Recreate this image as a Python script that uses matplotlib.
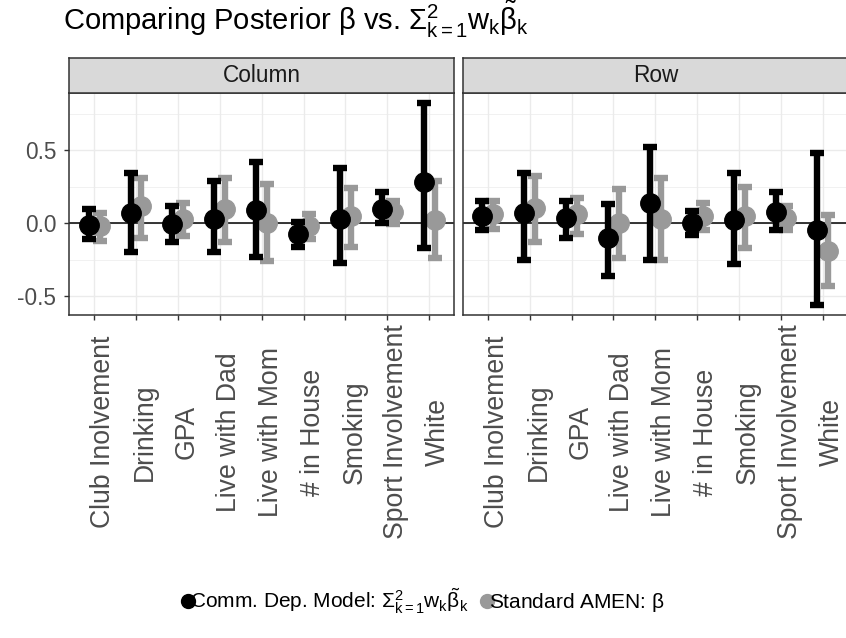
import numpy as np
import matplotlib
matplotlib.use("Agg")
import matplotlib.pyplot as plt
import matplotlib.transforms as mtransforms
from matplotlib.lines import Line2D
from matplotlib.ticker import MultipleLocator

plt.rcParams["font.family"] = ["Liberation Sans", "DejaVu Sans"]
plt.rcParams["mathtext.fontset"] = "custom"
plt.rcParams["mathtext.rm"] = "Liberation Sans"
plt.rcParams["mathtext.it"] = "Liberation Sans"
plt.rcParams["mathtext.bf"] = "Liberation Sans:bold"

# covariates, same order in both facets
covariates = ["Club Inolvement", "Drinking", "GPA", "Live with Dad", "Live with Mom",
              "# in House", "Smoking", "Sport Involvement", "White"]
facets = ["Column", "Row"]

# community-dependent model: sum_k w_k beta_k (mean, lower, upper)
comm_col_mean = [-0.01, 0.07, -0.005, 0.027, 0.09, -0.075, 0.027, 0.095, 0.28]
comm_col_lo = [-0.11, -0.20, -0.13, -0.20, -0.235, -0.165, -0.27, 0.0, -0.17]
comm_col_hi = [0.095, 0.345, 0.12, 0.29, 0.42, 0.005, 0.38, 0.21, 0.82]
comm_row_mean = [0.05, 0.068, 0.032, -0.10, 0.136, 0.0, 0.023, 0.077, -0.045]
comm_row_lo = [-0.05, -0.255, -0.105, -0.36, -0.255, -0.08, -0.28, -0.046, -0.56]
comm_row_hi = [0.15, 0.34, 0.15, 0.13, 0.52, 0.085, 0.345, 0.213, 0.48]

# standard AMEN posterior beta (mean, lower, upper)
amen_col_mean = [-0.02, 0.12, 0.027, 0.095, 0.0, -0.018, 0.05, 0.077, 0.022]
amen_col_lo = [-0.12, -0.10, -0.085, -0.13, -0.26, -0.11, -0.165, -0.007, -0.24]
amen_col_hi = [0.07, 0.31, 0.14, 0.31, 0.265, 0.06, 0.243, 0.15, 0.29]
amen_row_mean = [0.06, 0.107, 0.06, 0.0, 0.03, 0.05, 0.05, 0.032, -0.19]
amen_row_lo = [-0.04, -0.127, -0.075, -0.24, -0.25, -0.046, -0.17, -0.05, -0.43]
amen_row_hi = [0.15, 0.32, 0.175, 0.235, 0.31, 0.14, 0.247, 0.118, 0.055]

comm = {"Column": (comm_col_mean, comm_col_lo, comm_col_hi),
        "Row": (comm_row_mean, comm_row_lo, comm_row_hi)}
amen = {"Column": (amen_col_mean, amen_col_lo, amen_col_hi),
        "Row": (amen_row_mean, amen_row_lo, amen_row_hi)}

y_ticks = [-0.5, 0.0, 0.5]
y_ticklabels = ["-0.5", "0.0", "0.5"]

grey30 = "#4D4D4D"
grey20 = "#333333"
amen_col = "#999999"

# y range: data range expanded by 5% like ggplot
all_lo = min(min(v[1]) for v in list(comm.values()) + list(amen.values()))
all_hi = max(max(v[2]) for v in list(comm.values()) + list(amen.values()))
pad = 0.05 * (all_hi - all_lo)
ylim = (all_lo - pad, all_hi + pad)

W, H = 846, 638
fig = plt.figure(figsize=(W / 100, H / 100), dpi=100)


def px_box(x0, y0, x1, y1):
    return [x0 / W, 1 - y1 / H, (x1 - x0) / W, (y1 - y0) / H]


panel_x = [(69, 454.3), (462.7, 848)]
panel_top, panel_bot = 93.3, 315
strip_top = 58

x = np.arange(len(covariates))
dodge = 0.13

# rotated covariate labels: glyphs start at the tick, centred 117 px below the panel
label_offset = mtransforms.ScaledTranslation(-4 / 100, -117 / 100, fig.dpi_scale_trans)

for i, name in enumerate(facets):
    x0, x1 = panel_x[i]
    ax = fig.add_axes(px_box(x0, panel_top, x1, panel_bot))
    ax.set_xlim(-0.6, len(covariates) - 0.4)
    ax.set_ylim(*ylim)
    ax.set_yticks(y_ticks)
    ax.yaxis.set_minor_locator(MultipleLocator(0.25))
    ax.grid(True, which="major", color="#EBEBEB", linewidth=1.0, zorder=0)
    ax.grid(True, which="minor", axis="y", color="#EBEBEB", linewidth=0.5, zorder=0)
    ax.set_axisbelow(True)
    for s in ax.spines.values():
        s.set_color(grey20)
        s.set_linewidth(1.1)

    ax.axhline(0, color="black", linewidth=1.1, zorder=1)

    m, lo, hi = amen[name]
    m = np.array(m)
    ax.errorbar(x + dodge, m, yerr=[m - np.array(lo), np.array(hi) - m],
                fmt="o", color=amen_col, ecolor=amen_col, elinewidth=4.6,
                capsize=5.3, capthick=4.6, markersize=14, zorder=2)
    m, lo, hi = comm[name]
    m = np.array(m)
    ax.errorbar(x - dodge, m, yerr=[m - np.array(lo), np.array(hi) - m],
                fmt="o", color="black", ecolor="black", elinewidth=4.6,
                capsize=5.3, capthick=4.6, markersize=14, zorder=3)

    ax.set_xticks(x)
    ax.set_xticklabels([])
    ax.tick_params(axis="x", length=3.6, width=1.0, color=grey20)
    trans = ax.get_xaxis_transform() + label_offset
    for xi, lab in zip(x, covariates):
        ax.text(xi, 0, lab, rotation=90, ha="left", va="center", fontsize=19.2,
                color=grey30, transform=trans, clip_on=False)

    ax.tick_params(axis="y", which="minor", length=0)
    if i == 0:
        ax.set_yticklabels(y_ticklabels)
        ax.tick_params(axis="y", which="major", length=3.6, width=1.0, color=grey20,
                       pad=5.5, labelsize=16.3, labelcolor=grey30)
    else:
        ax.tick_params(axis="y", which="major", length=0, labelleft=False)

    # facet strip
    sax = fig.add_axes(px_box(x0, strip_top, x1, panel_top))
    sax.set_facecolor("#D9D9D9")
    sax.set_xticks([])
    sax.set_yticks([])
    for s in sax.spines.values():
        s.set_color(grey20)
        s.set_linewidth(1.1)
    sax.text(0.5, 0.5, name, ha="center", va="center", fontsize=16.3,
             color="#1A1A1A", transform=sax.transAxes)

fig.text(63 / W, 1 - 30 / H,
         r"Comparing Posterior $\beta$ vs. $\Sigma_{k=1}^{2}w_k\tilde{\beta}_k$",
         fontsize=21, ha="left", va="baseline", color="black")

handles = [
    Line2D([], [], marker="o", linestyle="none", color="black", markersize=10),
    Line2D([], [], marker="o", linestyle="none", color=amen_col, markersize=10),
]
labels = [r"Comm. Dep. Model: $\Sigma_{k=1}^{2}w_k\tilde{\beta}_k$",
          r"Standard AMEN: $\beta$"]
fig.legend(handles, labels, loc="center", bbox_to_anchor=(0.5, 1 - 601 / H),
           ncol=2, frameon=False, fontsize=15, handlelength=0.6,
           handletextpad=-0.2, columnspacing=0.6, borderpad=0)

fig.savefig("out.png", dpi=100)
